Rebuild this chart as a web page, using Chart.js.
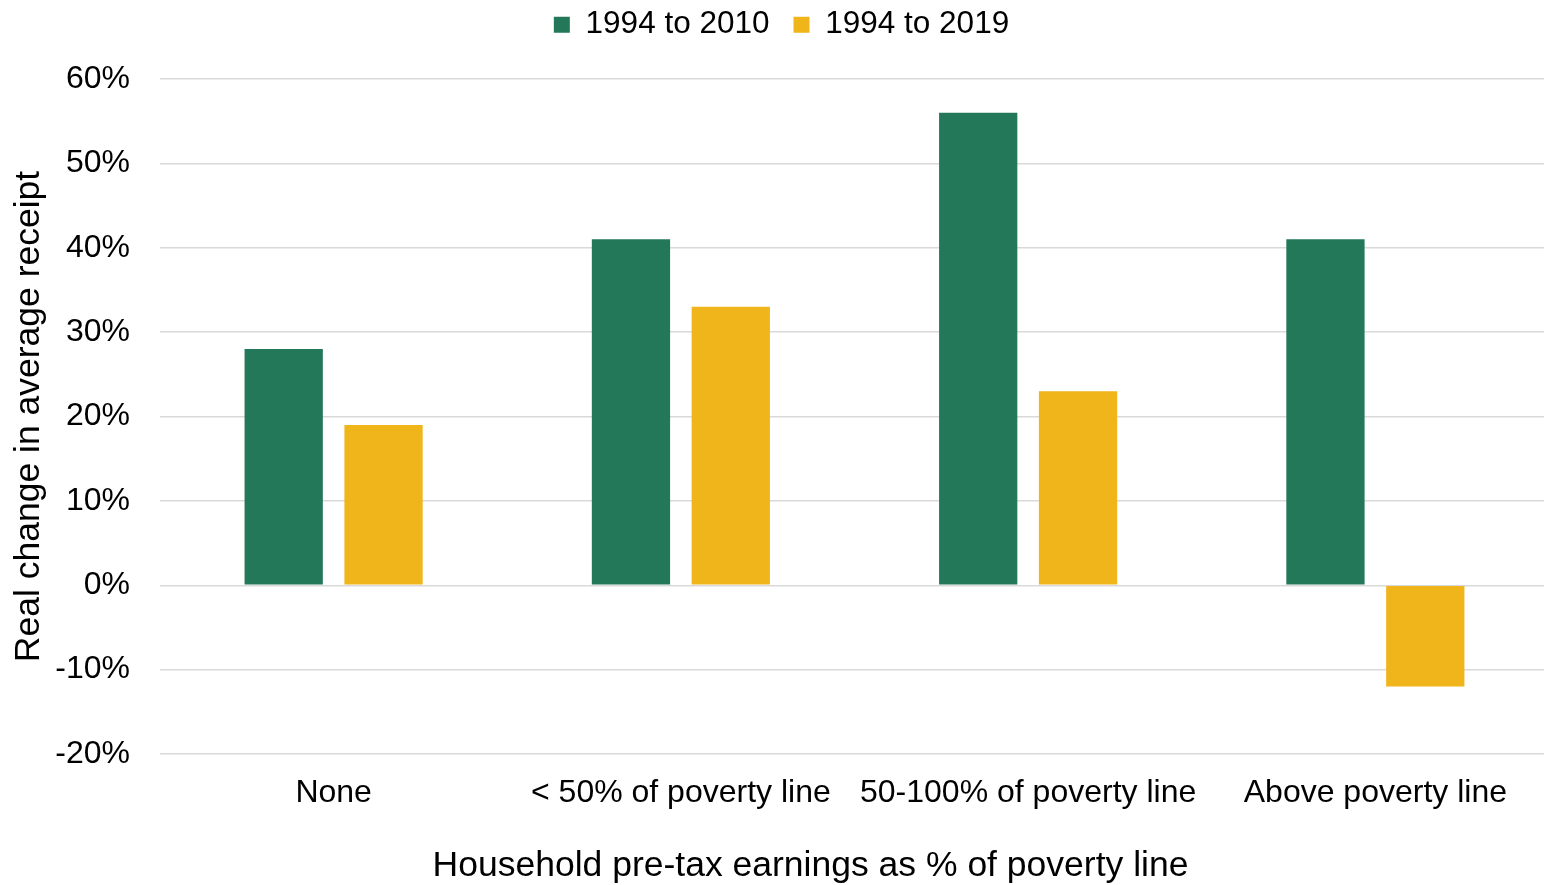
<!DOCTYPE html>
<html>
<head>
<meta charset="utf-8">
<script src="https://cdn.jsdelivr.net/npm/chart.js@4"></script>
<style>
html,body{margin:0;padding:0;background:#fff;overflow:hidden;}
#outer{width:1544px;height:885px;overflow:hidden;}
#wrap{width:1549px;height:885px;}
</style>
</head>
<body>
<div id="outer"><div id="wrap"><canvas id="c"></canvas></div></div>
<script>
const categories = ["None", "< 50% of poverty line", "50-100% of poverty line", "Above poverty line"];
const series2010 = [28, 41, 56, 41];
const series2019 = [19, 33, 23, -12];
const yTicks = [-20, -10, 0, 10, 20, 30, 40, 50, 60];

const FONT = "'Liberation Sans', Arial, sans-serif";

const layoutTweaks = {
  id: 'layoutTweaks',
  afterInit(chart) {
    const L = chart.legend;
    if (L) {
      const f = L.fit.bind(L);
      L.fit = function () { f(); this.height = 98; };
      const d = L.draw.bind(L);
      L.draw = function () { const c = this.ctx; c.save(); c.translate(7, 4); d(); c.restore(); };
    }
  },
  beforeDraw(chart) {
    const s = chart.scales.x;
    if (s && !s._titlePatched) {
      const dt = s.drawTitle.bind(s);
      s.drawTitle = function () { const c = this.ctx; c.save(); c.translate(-44, 0); dt(); c.restore(); };
      s._titlePatched = true;
    }
  }
};

const ctx = document.getElementById('c');
new Chart(ctx, {
  type: 'bar',
  data: {
    labels: categories,
    datasets: [
      { label: '1994 to 2010', data: series2010, backgroundColor: '#23785A', categoryPercentage: 0.575, barPercentage: 0.784 },
      { label: '1994 to 2019', data: series2019, backgroundColor: '#F0B51B', categoryPercentage: 0.575, barPercentage: 0.784 }
    ]
  },
  plugins: [layoutTweaks],
  options: {
    responsive: true,
    maintainAspectRatio: false,
    animation: false,
    layout: { padding: { left: 0, right: 0, top: -19, bottom: 0 } },
    plugins: {
      legend: {
        position: 'top',
        labels: {
          font: { family: FONT, size: 31.5 },
          color: '#000',
          boxWidth: 16,
          boxHeight: 16,
          padding: 24
        }
      },
      tooltip: { enabled: false }
    },
    scales: {
      x: {
        grid: { display: false, drawTicks: false },
        border: { display: false },
        ticks: { font: { family: FONT, size: 32 }, color: '#000', padding: 20, maxRotation: 0 },
        title: { display: true, text: 'Household pre-tax earnings as % of poverty line', font: { family: FONT, size: 35.5, lineHeight: 1.05 }, color: '#000', padding: { top: 0, bottom: 0 } },
        afterFit: s => { s.height = 131; }
      },
      y: {
        min: -20, max: 60,
        afterBuildTicks: s => { s.ticks = yTicks.map(v => ({ value: v })); },
        grid: { color: '#D9D9D9', lineWidth: 1.5, drawTicks: false },
        border: { display: false },
        ticks: { font: { family: FONT, size: 32 }, color: '#000', padding: 30, callback: v => v + '%' },
        title: { display: true, text: 'Real change in average receipt', font: { family: FONT, size: 35.5 }, color: '#000', padding: { top: 8, bottom: 0 } },
        afterFit: s => { s.width = 160; }
      }
    }
  }
});
</script>
</body>
</html>
